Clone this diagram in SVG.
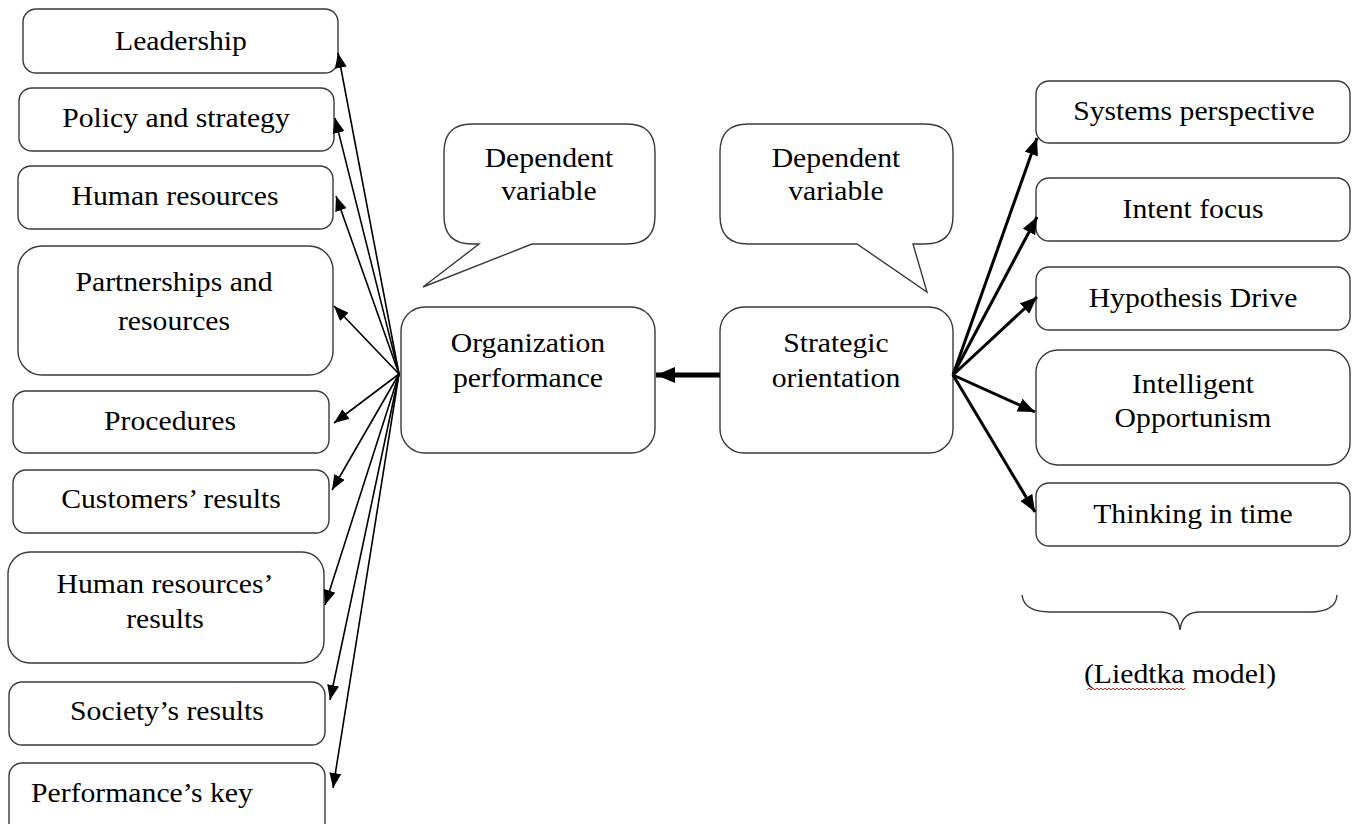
<svg xmlns="http://www.w3.org/2000/svg" width="1352" height="824" viewBox="0 0 1352 824">
<style>
.box{fill:#fff;stroke:#3a3a3a;stroke-width:1.4}
.t{font-family:"Liberation Serif","Times New Roman",serif;font-size:27px;fill:#000;text-anchor:middle;transform-box:fill-box;transform-origin:center;transform:scaleX(1.1)}
.thin{stroke:#000;stroke-width:1.6;fill:none}
.thick{stroke:#000;stroke-width:3;fill:none}
</style>
<defs>
<marker id="ah" markerUnits="userSpaceOnUse" markerWidth="16" markerHeight="12" refX="15" refY="6" orient="auto"><path d="M0,0 L15,6 L0,12 z" fill="#000"/></marker>
<marker id="ahb" markerUnits="userSpaceOnUse" markerWidth="18" markerHeight="14" refX="17" refY="7" orient="auto"><path d="M0,0 L17,7 L0,14 z" fill="#000"/></marker>
<marker id="ahc" markerUnits="userSpaceOnUse" markerWidth="20" markerHeight="16" refX="19" refY="8" orient="auto"><path d="M0,0 L19,8 L0,16 z" fill="#000"/></marker>
</defs>
<rect width="1352" height="824" fill="#fff"/>

<g id="n-leadership"><rect class="box" x="23" y="9" width="315" height="64" rx="13"/><text class="t" x="181" y="50">Leadership</text></g>
<g id="n-policy"><rect class="box" x="19" y="88" width="315" height="63" rx="13"/><text class="t" x="176" y="127">Policy and strategy</text></g>
<g id="n-hr"><rect class="box" x="18" y="166" width="315" height="63" rx="13"/><text class="t" x="175" y="205">Human resources</text></g>
<g id="n-partnerships"><rect class="box" x="18" y="246" width="315" height="129" rx="24"/><text class="t" x="174" y="291">Partnerships and</text><text class="t" x="174" y="330">resources</text></g>
<g id="n-procedures"><rect class="box" x="13" y="391" width="316" height="62" rx="13"/><text class="t" x="170" y="430">Procedures</text></g>
<g id="n-customers"><rect class="box" x="13" y="470" width="316" height="63" rx="13"/><text class="t" x="171" y="508">Customers’ results</text></g>
<g id="n-hrresults"><rect class="box" x="8" y="552" width="316" height="111" rx="22"/><text class="t" x="165" y="593">Human resources’</text><text class="t" x="165" y="628">results</text></g>
<g id="n-society"><rect class="box" x="9" y="682" width="316" height="63" rx="13"/><text class="t" x="167" y="720">Society’s results</text></g>
<g id="n-perfkey"><rect class="box" x="9" y="763" width="316" height="90" rx="13"/><text class="t" x="142" y="802">Performance’s key</text></g>

<g id="n-callout-left"><path class="box" d="M472,124 H627 Q655,124 655,152 V216 Q655,244 627,244 H532 L423,287 L479,244 H472 Q444,244 444,216 V152 Q444,124 472,124 Z"/><text class="t" x="549" y="167">Dependent</text><text class="t" x="549" y="200">variable</text></g>
<g id="n-callout-right"><path class="box" d="M748,124 H925 Q953,124 953,152 V216 Q953,244 925,244 H913 L927,292 L857,244 H748 Q720,244 720,216 V152 Q720,124 748,124 Z"/><text class="t" x="836" y="167">Dependent</text><text class="t" x="836" y="200">variable</text></g>

<g id="n-orgperf"><rect class="box" x="401" y="307" width="254" height="146" rx="24"/><text class="t" x="528" y="352">Organization</text><text class="t" x="528" y="387">performance</text></g>
<g id="n-strategic"><rect class="box" x="720" y="307" width="233" height="146" rx="24"/><text class="t" x="836" y="352">Strategic</text><text class="t" x="836" y="387">orientation</text></g>

<g id="n-systems"><rect class="box" x="1036" y="81" width="314" height="62" rx="13"/><text class="t" x="1194" y="120">Systems perspective</text></g>
<g id="n-intent"><rect class="box" x="1036" y="178" width="314" height="63" rx="13"/><text class="t" x="1193" y="218">Intent focus</text></g>
<g id="n-hypothesis"><rect class="box" x="1036" y="267" width="314" height="63" rx="13"/><text class="t" x="1193" y="307">Hypothesis Drive</text></g>
<g id="n-intelligent"><rect class="box" x="1036" y="350" width="314" height="115" rx="22"/><text class="t" x="1193" y="393">Intelligent</text><text class="t" x="1193" y="427">Opportunism</text></g>
<g id="n-thinking"><rect class="box" x="1036" y="483" width="314" height="63" rx="13"/><text class="t" x="1193" y="523">Thinking in time</text></g>

<g id="n-liedtka">
<path d="M1022,595 Q1024,612 1050,612 L1160,612 Q1178,612 1180,630 Q1182,612 1200,612 L1310,612 Q1336,612 1337,595" fill="none" stroke="#3a3a3a" stroke-width="1.4"/>
<text class="t" x="1180" y="683">(Liedtka model)</text>
<path d="M1087,690 l2,-2 l2,2 l2,-2 l2,2 l2,-2 l2,2 l2,-2 l2,2 l2,-2 l2,2 l2,-2 l2,2 l2,-2 l2,2 l2,-2 l2,2 l2,-2 l2,2 l2,-2 l2,2 l2,-2 l2,2 l2,-2 l2,2 l2,-2 l2,2 l2,-2 l2,2 l2,-2 l2,2 l2,-2 l2,2 l2,-2 l2,2 l2,-2 l2,2 l2,-2 l2,2 l2,-2 l2,2 l2,-2 l2,2 l2,-2 l2,2 l2,-2 l2,2 l2,-2 l2,2 l2,-2" fill="none" stroke="#e02020" stroke-width="1"/>
</g>

<g id="connectors">
<line class="thin" x1="399" y1="374" x2="338" y2="53" marker-end="url(#ah)"/>
<line class="thin" x1="399" y1="374" x2="335" y2="118" marker-end="url(#ah)"/>
<line class="thin" x1="399" y1="374" x2="336" y2="196" marker-end="url(#ah)"/>
<line class="thin" x1="399" y1="374" x2="334" y2="306" marker-end="url(#ah)"/>
<line class="thin" x1="399" y1="374" x2="334" y2="423" marker-end="url(#ah)"/>
<line class="thin" x1="399" y1="374" x2="332" y2="490" marker-end="url(#ah)"/>
<line class="thin" x1="399" y1="374" x2="325" y2="605" marker-end="url(#ah)"/>
<line class="thin" x1="399" y1="374" x2="330" y2="700" marker-end="url(#ah)"/>
<line class="thin" x1="399" y1="374" x2="333" y2="788" marker-end="url(#ah)"/>
<line x1="720" y1="375" x2="656" y2="375" stroke="#000" stroke-width="5" marker-end="url(#ahc)"/>
<line class="thick" x1="953" y1="375" x2="1037" y2="138" marker-end="url(#ahb)"/>
<line class="thick" x1="953" y1="375" x2="1037" y2="217" marker-end="url(#ahb)"/>
<line class="thick" x1="953" y1="375" x2="1037" y2="297" marker-end="url(#ahb)"/>
<line class="thick" x1="953" y1="375" x2="1035" y2="412" marker-end="url(#ahb)"/>
<line class="thick" x1="953" y1="375" x2="1035" y2="512" marker-end="url(#ahb)"/>
</g>
</svg>
